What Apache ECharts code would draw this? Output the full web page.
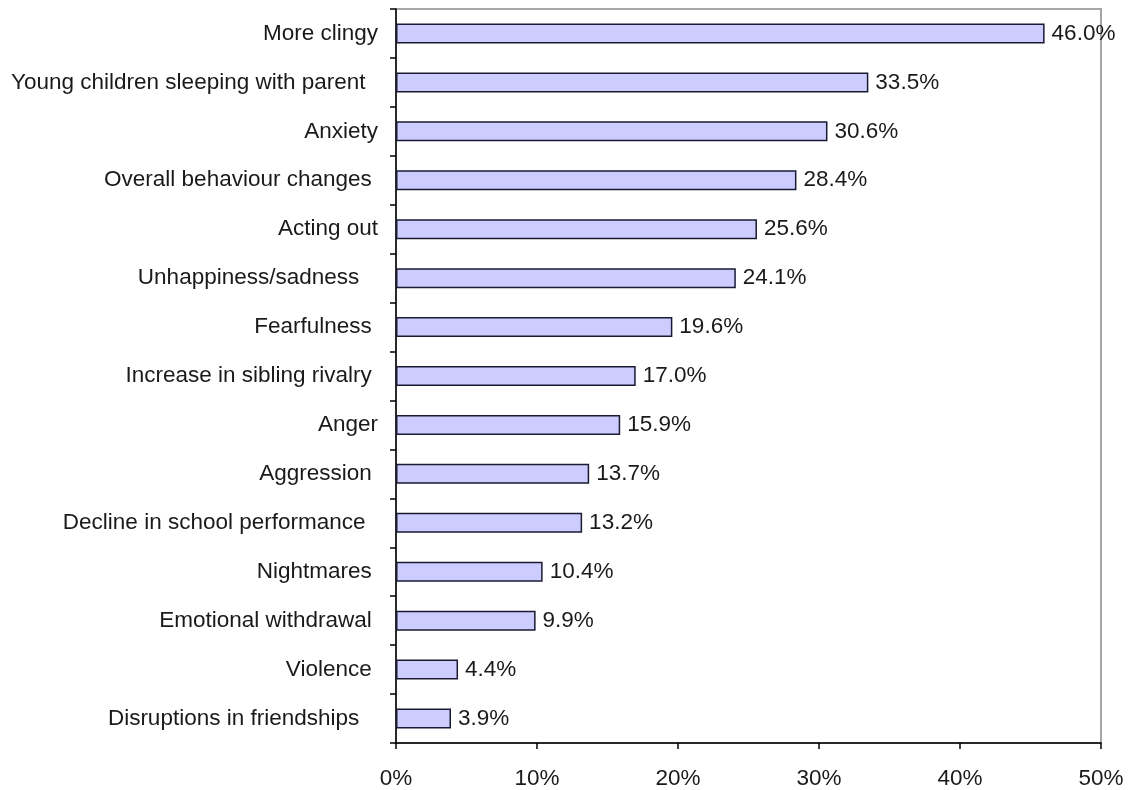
<!DOCTYPE html>
<html>
<head>
<meta charset="utf-8">
<script src="https://cdn.jsdelivr.net/npm/echarts@6/dist/echarts.min.js"></script>
<style>
  html, body { margin: 0; padding: 0; background: #fff; }
  #chart { width: 1129px; height: 790px; }
</style>
</head>
<body>
<div id="chart"></div>
<script>
// categories top to bottom (trailing spaces kept as in the source sheet)
const categories = [
  'More clingy',
  'Young children sleeping with parent  ',
  'Anxiety',
  'Overall behaviour changes ',
  'Acting out',
  'Unhappiness/sadness   ',
  'Fearfulness ',
  'Increase in sibling rivalry ',
  'Anger',
  'Aggression ',
  'Decline in school performance  ',
  'Nightmares ',
  'Emotional withdrawal ',
  'Violence ',
  'Disruptions in friendships   '
];
const values = [46.0, 33.5, 30.6, 28.4, 25.6, 24.1, 19.6, 17.0, 15.9, 13.7, 13.2, 10.4, 9.9, 4.4, 3.9];

var dom = document.getElementById('chart');
var myChart = echarts.init(dom, null, { renderer: 'canvas' });

const font = 'Liberation Sans, Arial, sans-serif';

var option = {
  animation: false,
  grid: {
    left: 396,
    right: 28,
    top: 9,
    bottom: 47,
    show: true,
    borderColor: '#a6a6a6',
    borderWidth: 2
  },
  xAxis: {
    type: 'value',
    min: 0,
    max: 50,
    interval: 10,
    axisLine: { show: true, lineStyle: { color: '#000', width: 1.5 } },
    axisTick: { show: true, length: 6, lineStyle: { color: '#000', width: 1.5 } },
    splitLine: { show: false },
    axisLabel: {
      formatter: '{value}%',
      color: '#1a1a1a',
      fontFamily: font,
      fontSize: 22.5,
      margin: 24
    }
  },
  yAxis: {
    type: 'category',
    inverse: true,
    data: categories,
    axisLine: { show: true, lineStyle: { color: '#000', width: 1.5 } },
    axisTick: { show: true, length: 6, lineStyle: { color: '#000', width: 1.5 } },
    axisLabel: {
      color: '#1a1a1a',
      fontFamily: font,
      fontSize: 22.5,
      margin: 18
    }
  },
  series: [
    {
      type: 'bar',
      data: values,
      barWidth: 20,
      itemStyle: {
        color: '#ccccff',
        borderColor: '#1a1a33',
        borderWidth: 1.5
      },
      label: {
        show: true,
        position: 'right',
        distance: 7,
        formatter: p => p.value.toFixed(1) + '%',
        color: '#1a1a1a',
        fontFamily: font,
        fontSize: 22.5
      }
    }
  ]
};

option && myChart.setOption(option);
</script>
</body>
</html>
